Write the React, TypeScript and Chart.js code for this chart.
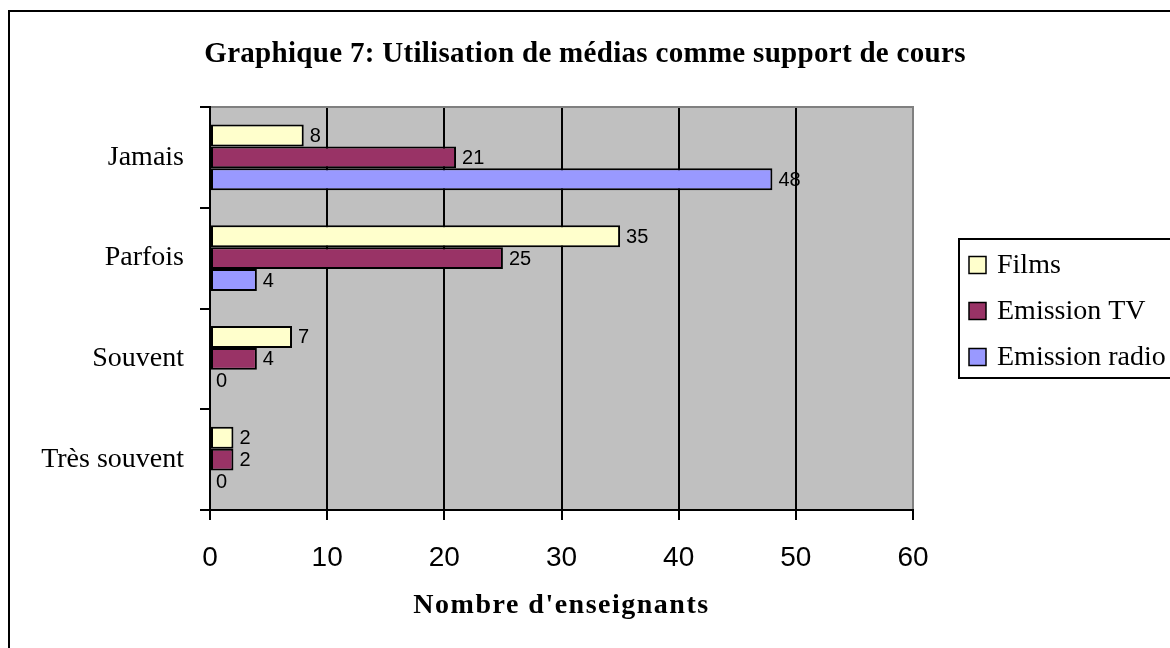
import React, { useEffect, useRef } from "react";
import { Chart, registerables } from "chart.js";

Chart.register(...registerables);

const TITLE = "Graphique 7: Utilisation de médias comme support de cours";
const X_TITLE = "Nombre d'enseignants";
const categories = ["Jamais", "Parfois", "Souvent", "Très souvent"];
const seriesNames = ["Films", "Emission TV", "Emission radio"];
const films = [8, 35, 7, 2];
const emissionTV = [21, 25, 4, 2];
const emissionRadio = [48, 4, 0, 0];
const xTicks = [0, 10, 20, 30, 40, 50, 60];
const seriesColors = ["#FFFFCC", "#993366", "#9999FF"];

const SERIF = "'Liberation Serif', 'Times New Roman', serif";
const SANS = "'Liberation Sans', Arial, sans-serif";

const W = 1170;
const H = 648;

const backgroundPlugin = {
  id: "bgFrame",
  beforeDraw(chart: any) {
    const { ctx, chartArea: a } = chart;
    ctx.save();
    ctx.fillStyle = "#FFFFFF";
    ctx.fillRect(0, 0, chart.width, chart.height);
    ctx.fillStyle = "#000000";
    ctx.fillRect(8, 10, 2, chart.height);
    ctx.fillRect(8, 10, chart.width, 2);
    ctx.fillStyle = "#C0C0C0";
    ctx.fillRect(a.left, a.top, a.right - a.left, a.bottom - a.top);
    ctx.restore();
  },
  afterDraw(chart: any) {
    const { ctx, chartArea: a } = chart;
    ctx.save();
    ctx.fillStyle = "#808080";
    ctx.fillRect(a.left + 1, a.top - 1, a.right - a.left, 2);
    ctx.restore();
  },
};

function withSpacing(obj: any, method: string, spacing: string) {
  if (!obj || obj["__sp_" + method]) return;
  const orig = obj[method];
  obj[method] = function (...args: any[]) {
    const ctx = this.ctx;
    ctx.save();
    (ctx as any).letterSpacing = spacing;
    const r = orig.apply(this, args);
    ctx.restore();
    return r;
  };
  obj["__sp_" + method] = true;
}

const spacingPlugin = {
  id: "textSpacing",
  afterUpdate(chart: any) {
    withSpacing(chart.scales.x, "drawTitle", "1.5px");
    withSpacing(chart.titleBlock, "draw", "0.3px");
  },
};

const valueLabelPlugin = {
  id: "valueLabels",
  afterDatasetsDraw(chart: any) {
    const { ctx } = chart;
    ctx.save();
    ctx.font = `20px ${SANS}`;
    ctx.fillStyle = "#000000";
    ctx.textAlign = "left";
    ctx.textBaseline = "middle";
    chart.data.datasets.forEach((ds: any, i: number) => {
      const meta = chart.getDatasetMeta(i);
      meta.data.forEach((el: any, j: number) => {
        ctx.fillText(String(ds.data[j]), el.x + 6, el.y + 1);
      });
    });
    ctx.restore();
  },
};

const boxLegendPlugin = {
  id: "boxLegend",
  afterDraw(chart: any) {
    const { ctx, chartArea: a } = chart;
    const datasets = chart.data.datasets;
    const left = a.right + 46;
    const gap = 46;
    const boxH = gap * datasets.length + 1;
    const top = (a.top + a.bottom) / 2 - boxH / 2;
    ctx.save();
    ctx.fillStyle = "#FFFFFF";
    ctx.fillRect(left, top, chart.width - left + 20, boxH);
    ctx.strokeStyle = "#000000";
    ctx.lineWidth = 2;
    ctx.strokeRect(left, top, chart.width - left + 20, boxH);
    ctx.font = `28px ${SERIF}`;
    ctx.textAlign = "left";
    ctx.textBaseline = "middle";
    datasets.forEach((ds: any, i: number) => {
      const cy = top + 26 + i * gap;
      ctx.fillStyle = ds.backgroundColor;
      ctx.fillRect(left + 10, cy - 8.5, 17, 17);
      ctx.lineWidth = 1.5;
      ctx.strokeStyle = "#000000";
      ctx.strokeRect(left + 10, cy - 8.5, 17, 17);
      ctx.fillStyle = "#000000";
      ctx.fillText(ds.label, left + 38, cy + 1);
    });
    ctx.restore();
  },
};

export default function App() {
  const canvasRef = useRef<HTMLCanvasElement | null>(null);

  useEffect(() => {
    const canvas = canvasRef.current;
    if (!canvas) return;
    const seriesData = [films, emissionTV, emissionRadio];
    const chart = new Chart(canvas, {
      type: "bar",
      data: {
        labels: categories,
        datasets: seriesNames.map((name, i) => ({
          label: name,
          data: seriesData[i],
          backgroundColor: seriesColors[i],
          borderColor: "#000000",
          borderWidth: 2,
          borderSkipped: false,
          categoryPercentage: 0.655,
          barPercentage: 1,
          xAxisID: "x",
          yAxisID: "y",
        })),
      },
      options: {
        indexAxis: "y",
        responsive: false,
        animation: false,
        devicePixelRatio: 1,
        layout: { padding: 0 },
        plugins: {
          legend: { display: false },
          tooltip: { enabled: false },
          title: {
            display: true,
            text: TITLE,
            color: "#000000",
            font: { family: SERIF, size: 29, weight: "bold", lineHeight: 1.2 },
            padding: { top: 37, bottom: 35.2 },
          },
        },
        scales: {
          x: {
            type: "linear",
            position: "bottom",
            min: 0,
            max: 60,
            afterBuildTicks: (s: any) => {
              s.ticks = xTicks.map((v) => ({ value: v }));
            },
            afterFit: (s: any) => {
              s.height = 138;
            },
            grid: {
              color: (c: any) => (c.tick && c.tick.value === 60 ? "#808080" : "#000000"),
              lineWidth: 2,
              tickColor: "#000000",
              tickWidth: 2,
              tickLength: 10,
              drawTicks: true,
            },
            border: { display: true, color: "#000000", width: 2 },
            ticks: {
              color: "#000000",
              font: { family: SANS, size: 28 },
              padding: 21,
              maxRotation: 0,
            },
            title: {
              display: true,
              text: X_TITLE,
              color: "#000000",
              font: { family: SERIF, size: 28, weight: "bold", lineHeight: 1.2 },
              padding: { top: 0, bottom: 25 },
            },
          },
          y: {
            type: "category",
            position: "left",
            afterFit: (s: any) => {
              s.width = 210;
            },
            grid: {
              offset: true,
              drawOnChartArea: false,
              color: "#000000",
              lineWidth: 2,
              tickLength: 10,
            },
            border: { display: true, color: "#000000", width: 2 },
            ticks: {
              color: "#000000",
              font: { family: SERIF, size: 28 },
              padding: 16,
            },
          },
          yPad: {
            type: "linear",
            position: "right",
            display: true,
            grid: { display: false },
            border: { display: false },
            ticks: { display: false },
            afterFit: (s: any) => {
              s.width = W - 913;
            },
          },
        },
      } as any,
      plugins: [backgroundPlugin, spacingPlugin, valueLabelPlugin, boxLegendPlugin],
    });
    return () => chart.destroy();
  }, []);

  return (
    <div style={{ position: "absolute", left: 0, top: 0, width: W, height: H }}>
      <canvas ref={canvasRef} width={W} height={H} style={{ display: "block", width: W, height: H }} />
    </div>
  );
}
